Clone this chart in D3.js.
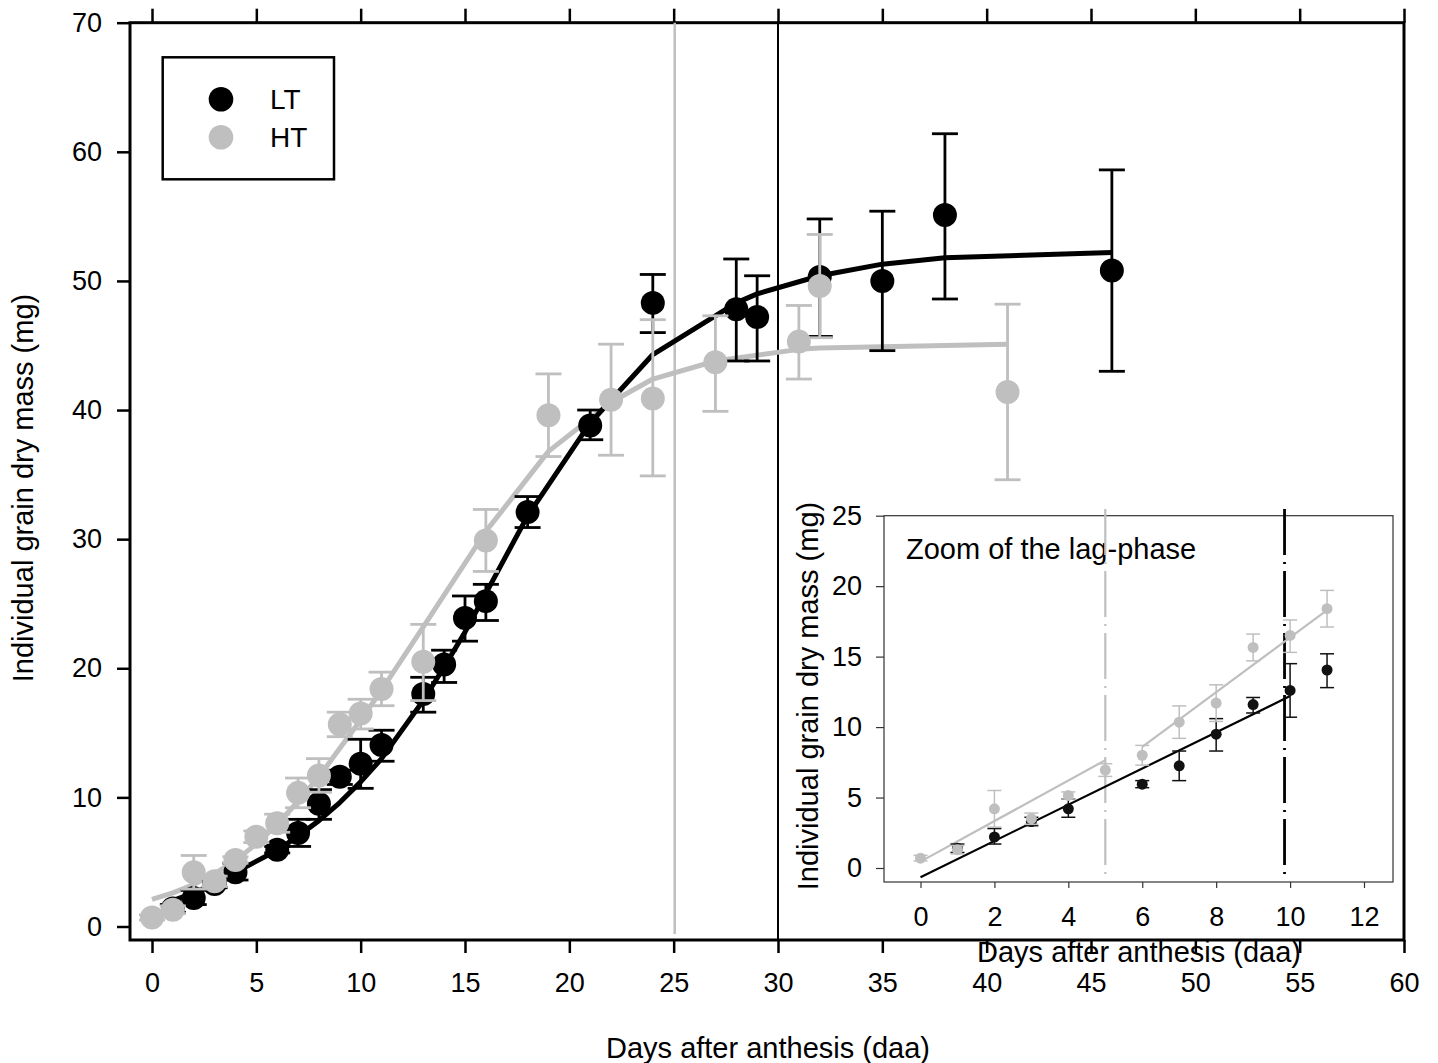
<!DOCTYPE html>
<html>
<head>
<meta charset="utf-8">
<script src="https://cdn.jsdelivr.net/npm/d3@7"></script>
<style>
  body { margin: 0; background: #fff; }
  svg text { font-family: "Liberation Sans", Arial, Helvetica, sans-serif; fill: #000; }
</style>
</head>
<body>
<div id="chart"></div>
<script>
// LT (black) measured grain mass: day, mean, lower, upper
var ltDays = [1, 2, 3, 4, 6, 7, 8, 9, 10, 11, 13, 14, 15, 16, 18, 21, 24, 28, 29, 32, 35, 38, 46];
var ltMass = [1.4, 2.2, 3.3, 4.2, 5.95, 7.25, 9.5, 11.6, 12.6, 14.05, 18.0, 20.3, 23.9, 25.2, 32.1, 38.8, 48.3, 47.8, 47.2, 50.3, 50.0, 55.1, 50.8];
var ltLow  = [1.1, 1.7, 3.0, 3.6, 5.7, 6.2, 8.3, 11.0, 10.7, 12.8, 16.6, 18.9, 22.1, 23.7, 30.9, 37.7, 46.0, 43.8, 43.8, 45.7, 44.6, 48.6, 43.0];
var ltHigh = [1.7, 2.8, 3.6, 4.9, 6.2, 8.3, 10.6, 12.1, 14.5, 15.2, 19.3, 21.4, 25.6, 26.5, 33.3, 40.0, 50.5, 51.7, 50.4, 54.8, 55.4, 61.4, 58.6];

// HT (grey)
var htDays = [0, 1, 2, 3, 4, 5, 6, 7, 8, 9, 10, 11, 13, 16, 19, 22, 24, 27, 31, 32, 41];
var htMass = [0.7, 1.3, 4.2, 3.5, 5.15, 6.95, 8.0, 10.35, 11.7, 15.65, 16.5, 18.4, 20.5, 29.9, 39.6, 40.8, 40.9, 43.7, 45.3, 49.6, 41.4];
var htLow  = [0.5, 1.0, 2.9, 3.1, 4.9, 6.5, 7.3, 9.2, 10.4, 14.7, 15.3, 17.1, 17.5, 27.5, 36.4, 36.5, 34.9, 39.9, 42.4, 45.6, 34.6];
var htHigh = [0.9, 1.6, 5.5, 3.9, 5.4, 7.4, 8.7, 11.5, 13.0, 16.6, 17.6, 19.7, 23.4, 32.3, 42.8, 45.1, 47.0, 47.3, 48.1, 53.6, 48.2];

// fitted curves
var ltFitDays = [1, 2, 3, 4, 6, 7, 8, 9, 10, 11, 13, 14, 15, 16, 18, 21, 24, 28, 29, 32, 35, 38, 46];
var ltFitMass = [2.0, 2.6, 3.3, 4.2, 5.9, 7.0, 8.2, 9.6, 11.2, 13.0, 17.5, 20.1, 22.8, 25.8, 31.8, 39.0, 44.3, 48.3, 49.0, 50.4, 51.3, 51.8, 52.2];
var htFitDays = [0, 1, 2, 3, 4, 5, 6, 7, 8, 9, 10, 11, 13, 16, 19, 22, 24, 27, 31, 32, 41];
var htFitMass = [2.1, 2.6, 3.25, 4.1, 5.1, 6.4, 7.9, 9.7, 11.6, 13.8, 16.0, 18.3, 23.2, 30.6, 36.8, 40.6, 42.4, 43.8, 44.7, 44.8, 45.1];

// end of lag phase markers
var htLagEnd = 25.05;
var ltLagEnd = 30;

// inset: lag phase linear fits
var ltLagLine = [[0, -0.65], [10, 12.2]];
var htLagLine1 = [[0, 0.45], [5, 7.65]];
var htLagLine2 = [[6, 8.6], [11, 18.3]];
var insetHtMark = 5;
var insetLtMark = 9.85;

var mainXTicks = d3.range(0, 61, 5);
var mainYTicks = d3.range(0, 71, 10);
var insetXTicks = d3.range(0, 13, 2);
var insetYTicks = d3.range(0, 26, 5);

var legendItems = ["LT", "HT"];

var BLACK = "#000", GREY = "#bfbfbf";

var W = 1438, H = 1063;
var svg = d3.select("#chart").append("svg").attr("width", W).attr("height", H);

// ---------- main plot ----------
var x = d3.scaleLinear().domain([0, 60]).range([152, 1404]);
var y = d3.scaleLinear().domain([0, 70]).range([926.5, 22.7]);
var frame = { left: 130, top: 22.7, right: 1404, bottom: 940 };

var main = svg.append("g");

main.append("rect")
    .attr("x", frame.left).attr("y", frame.top)
    .attr("width", frame.right - frame.left).attr("height", frame.bottom - frame.top)
    .attr("fill", "none").attr("stroke", "#000").attr("stroke-width", 3);

var xAxis = d3.axisBottom(x).tickValues(mainXTicks).tickSize(13).tickPadding(20).tickFormat(d3.format("d"));
var gx = main.append("g").attr("transform", "translate(0," + frame.bottom + ")").call(xAxis);
gx.select(".domain").remove();
gx.selectAll("line").attr("stroke-width", 2.5);
gx.selectAll("text").style("font-size", "27px");

var xTop = d3.axisTop(x).tickValues(mainXTicks).tickSize(14).tickFormat("");
var gt = main.append("g").attr("transform", "translate(0," + frame.top + ")").call(xTop);
gt.select(".domain").remove();
gt.selectAll("line").attr("stroke-width", 2.5);

var yAxis = d3.axisLeft(y).tickValues(mainYTicks).tickSize(13).tickPadding(15);
var gy = main.append("g").attr("transform", "translate(" + frame.left + ",0)").call(yAxis);
gy.select(".domain").remove();
gy.selectAll("line").attr("stroke-width", 2.5);
gy.selectAll("text").style("font-size", "27px");

main.append("text")
    .attr("x", 768).attr("y", 1058)
    .attr("text-anchor", "middle").style("font-size", "29px")
    .text("Days after anthesis (daa)");

main.append("text")
    .attr("transform", "translate(33,488) rotate(-90)")
    .attr("text-anchor", "middle").style("font-size", "29px")
    .text("Individual grain dry mass (mg)");

// lag-phase end lines
main.append("line")
    .attr("x1", x(htLagEnd)).attr("x2", x(htLagEnd))
    .attr("y1", frame.top).attr("y2", 934)
    .attr("stroke", GREY).attr("stroke-width", 2.5);
main.append("line")
    .attr("x1", x(ltLagEnd)).attr("x2", x(ltLagEnd))
    .attr("y1", frame.top).attr("y2", frame.bottom)
    .attr("stroke", BLACK).attr("stroke-width", 2);

var line = d3.line().x(function(d) { return x(d[0]); }).y(function(d) { return y(d[1]); });

main.append("path")
    .datum(d3.zip(htFitDays, htFitMass))
    .attr("d", line).attr("fill", "none")
    .attr("stroke", GREY).attr("stroke-width", 5).attr("stroke-linejoin", "round");
main.append("path")
    .datum(d3.zip(ltFitDays, ltFitMass))
    .attr("d", line).attr("fill", "none")
    .attr("stroke", BLACK).attr("stroke-width", 5).attr("stroke-linejoin", "round");

function drawSeries(g, xs, ys, days, mass, lo, hi, color, r, cap, sw) {
    var data = days.map(function(d, i) { return { day: d, m: mass[i], lo: lo[i], hi: hi[i] }; });
    var eb = g.append("g").attr("stroke", color).attr("stroke-width", sw);
    eb.selectAll(".v").data(data).enter().append("line")
        .attr("x1", function(d) { return xs(d.day); }).attr("x2", function(d) { return xs(d.day); })
        .attr("y1", function(d) { return ys(d.lo); }).attr("y2", function(d) { return ys(d.hi); });
    eb.selectAll(".t").data(data).enter().append("line")
        .attr("x1", function(d) { return xs(d.day) - cap; }).attr("x2", function(d) { return xs(d.day) + cap; })
        .attr("y1", function(d) { return ys(d.hi); }).attr("y2", function(d) { return ys(d.hi); });
    eb.selectAll(".b").data(data).enter().append("line")
        .attr("x1", function(d) { return xs(d.day) - cap; }).attr("x2", function(d) { return xs(d.day) + cap; })
        .attr("y1", function(d) { return ys(d.lo); }).attr("y2", function(d) { return ys(d.lo); });
    g.append("g").selectAll("circle").data(data).enter().append("circle")
        .attr("cx", function(d) { return xs(d.day); })
        .attr("cy", function(d) { return ys(d.m); })
        .attr("r", r).attr("fill", color);
}

drawSeries(main, x, y, ltDays, ltMass, ltLow, ltHigh, BLACK, 12, 13, 2.8);
drawSeries(main, x, y, htDays, htMass, htLow, htHigh, GREY, 12, 13, 2.8);

// legend
var legend = main.append("g");
legend.append("rect")
    .attr("x", 162.7).attr("y", 57.3).attr("width", 171.3).attr("height", 122)
    .attr("fill", "#fff").attr("stroke", "#000").attr("stroke-width", 2.5);
legend.selectAll("circle").data(legendItems).enter().append("circle")
    .attr("cx", 221).attr("cy", function(d, i) { return 99.3 + i * 38; })
    .attr("r", 12.3).attr("fill", function(d, i) { return i ? GREY : BLACK; });
legend.selectAll("text").data(legendItems).enter().append("text")
    .attr("x", 270).attr("y", function(d, i) { return 109.3 + i * 37.5; })
    .style("font-size", "28px").text(function(d) { return d; });

// ---------- inset ----------
var ix = d3.scaleLinear().domain([0, 12]).range([920.5, 1364]);
var iy = d3.scaleLinear().domain([0, 25]).range([868, 515.7]);
var iframe = { left: 884, top: 515.7, right: 1393, bottom: 882 };

var inset = svg.append("g");
inset.append("rect")
    .attr("x", iframe.left).attr("y", iframe.top)
    .attr("width", iframe.right - iframe.left).attr("height", iframe.bottom - iframe.top)
    .attr("fill", "#fff").attr("stroke", "#333").attr("stroke-width", 1.2);

var ixAxis = d3.axisBottom(ix).tickValues(insetXTicks).tickSize(6).tickPadding(19);
var gix = inset.append("g").attr("transform", "translate(0," + iframe.bottom + ")").call(ixAxis);
gix.select(".domain").remove();
gix.selectAll("line").attr("stroke", "#333").attr("stroke-width", 1.2);
gix.selectAll("text").style("font-size", "27px");

var iyAxis = d3.axisLeft(iy).tickValues(insetYTicks).tickSize(8).tickPadding(14);
var giy = inset.append("g").attr("transform", "translate(" + iframe.left + ",0)").call(iyAxis);
giy.select(".domain").remove();
giy.selectAll("line").attr("stroke", "#333").attr("stroke-width", 1.2);
giy.selectAll("text").style("font-size", "27px");

inset.append("text")
    .attr("x", 1139).attr("y", 962)
    .attr("text-anchor", "middle").style("font-size", "29px")
    .text("Days after anthesis (daa)");
inset.append("text")
    .attr("transform", "translate(818,696) rotate(-90)")
    .attr("text-anchor", "middle").style("font-size", "29px")
    .text("Individual grain dry mass (mg)");
inset.append("text")
    .attr("x", 906).attr("y", 559).style("font-size", "29px")
    .text("Zoom of the lag-phase");

inset.append("line")
    .attr("x1", ix(insetHtMark)).attr("x2", ix(insetHtMark))
    .attr("y1", 509).attr("y2", 880)
    .attr("stroke", GREY).attr("stroke-width", 2.2).attr("stroke-dasharray", "46,7,2,7");
inset.append("line")
    .attr("x1", ix(insetLtMark)).attr("x2", ix(insetLtMark))
    .attr("y1", 509).attr("y2", 880)
    .attr("stroke", BLACK).attr("stroke-width", 2.8).attr("stroke-dasharray", "46,7,2,7");

var iline = d3.line().x(function(d) { return ix(d[0]); }).y(function(d) { return iy(d[1]); });
[htLagLine1, htLagLine2].forEach(function(seg) {
    inset.append("path").datum(seg).attr("d", iline)
        .attr("fill", "none").attr("stroke", GREY).attr("stroke-width", 2.2);
});
inset.append("path").datum(ltLagLine).attr("d", iline)
    .attr("fill", "none").attr("stroke", BLACK).attr("stroke-width", 2.2);

function firstDays(days, arr) { return arr.filter(function(v, i) { return days[i] <= 11; }); }
drawSeries(inset, ix, iy, firstDays(ltDays, ltDays), firstDays(ltDays, ltMass), firstDays(ltDays, ltLow), firstDays(ltDays, ltHigh), "#111", 5.5, 7, 1.5);
drawSeries(inset, ix, iy, firstDays(htDays, htDays), firstDays(htDays, htMass), firstDays(htDays, htLow), firstDays(htDays, htHigh), GREY, 5.5, 7, 1.5);
</script>
</body>
</html>
